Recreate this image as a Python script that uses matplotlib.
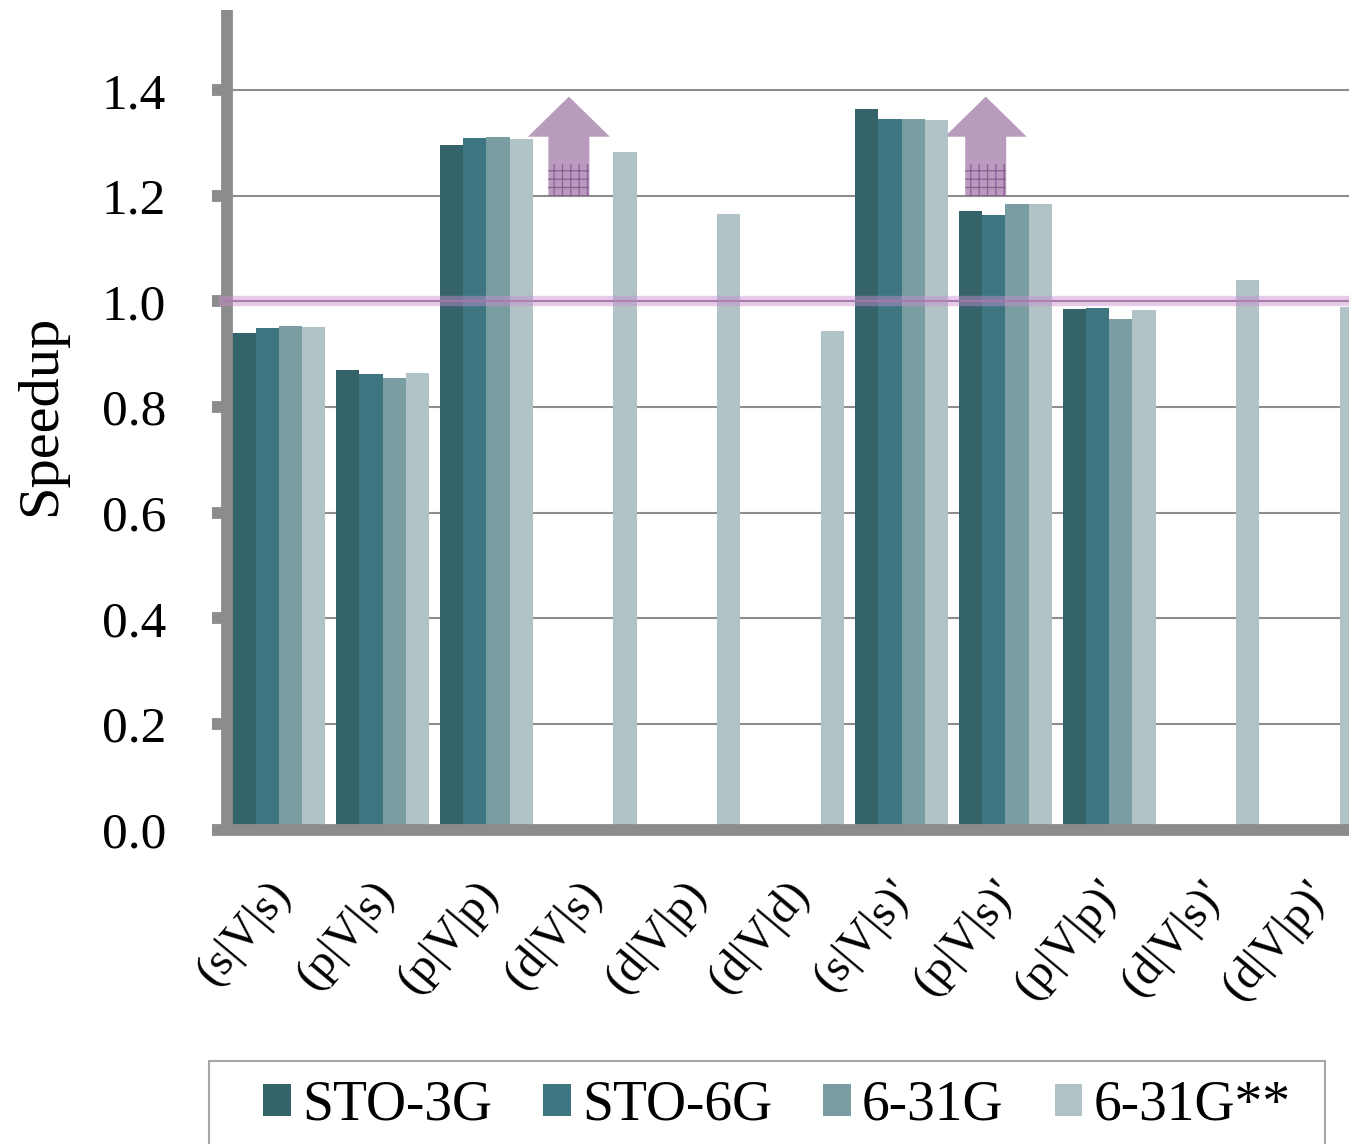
import numpy as np
import matplotlib
matplotlib.use('Agg')
from matplotlib import pyplot as plt
from matplotlib.patches import FancyArrow, Rectangle
from matplotlib.transforms import ScaledTranslation

plt.rcParams['font.family'] = ['Liberation Serif', 'DejaVu Serif']
plt.rcParams['hatch.linewidth'] = 0.9

categories = ['(s|V|s)', '(p|V|s)', '(p|V|p)', '(d|V|s)', '(d|V|p)', '(d|V|d)',
              "(s|V|s)'", "(p|V|s)'", "(p|V|p)'", "(d|V|s)'", "(d|V|p)'"]
series_names = ['STO-3G', 'STO-6G', '6-31G', '6-31G**']

sto3g = [0.940, 0.871, 1.296, np.nan, np.nan, np.nan, 1.364, 1.172, 0.985, np.nan, np.nan]
sto6g = [0.950, 0.862, 1.309, np.nan, np.nan, np.nan, 1.345, 1.163, 0.987, np.nan, np.nan]
g631 = [0.953, 0.856, 1.311, np.nan, np.nan, np.nan, 1.345, 1.184, 0.966, np.nan, np.nan]
g631ss = [0.951, 0.864, 1.307, 1.283, 1.165, 0.945, 1.343, 1.184, 0.983, 1.040, 0.989]

colors = ['#34636a', '#3d7680', '#7a9da1', '#b2c3c7']
yticks = [0.0, 0.2, 0.4, 0.6, 0.8, 1.0, 1.2, 1.4]
# arrows mark the two cases that go off the scale
arrow_x = [2.794, 6.81]

W, H = 1349, 1144
fig = plt.figure(figsize=(W / 100, H / 100), dpi=100)
ax = fig.add_axes([227 / W, (H - 829.5) / H, (W - 227) / W, (829.5 - 10) / H])

x = np.arange(len(categories))
bar_w = 0.2236
for i, vals in enumerate([sto3g, sto6g, g631, g631ss]):
    ax.bar(x + (i - 1.5) * bar_w, vals, bar_w, color=colors[i], label=series_names[i],
           linewidth=0, zorder=3)

ax.set_xlim(-0.5, 10.31)
ax.set_ylim(0, 1.552)
ax.set_yticks(yticks)
ax.set_yticklabels(['%.1f' % v for v in yticks], fontsize=37)
ax.set_xticks(x)
ax.set_xticklabels(categories, fontsize=34, rotation=50, ha='right', rotation_mode='anchor')
ax.set_ylabel('Speedup', fontsize=42)
ax.yaxis.set_label_coords(-0.1425, 0.505)
ax.yaxis.grid(True, color='#8c8c8c', linewidth=1.5, zorder=1)
ax.xaxis.grid(False)
ax.set_axisbelow(True)

for s in ['top', 'right']:
    ax.spines[s].set_visible(False)
for s in ['left', 'bottom']:
    ax.spines[s].set_color('#8c8c8c')
    ax.spines[s].set_linewidth(8.5)
    ax.spines[s].set_capstyle('butt')
    ax.spines[s].set_zorder(4)
ax.tick_params(axis='y', length=11, width=8.5, color='#8c8c8c', pad=33, zorder=4)
ax.tick_params(axis='x', length=0, pad=31)

# labels sit a bit left of the group centre
for lab in ax.get_xticklabels():
    lab.set_transform(lab.get_transform() + ScaledTranslation(-12 / 100, 0, fig.dpi_scale_trans))

# reference band at 1.0
ax.axhline(1.0, xmin=-0.003, color='#c88fd0', alpha=0.45, linewidth=7.5, zorder=5, clip_on=False)
ax.axhline(1.0, xmin=-0.003, color='#a878ae', alpha=0.8, linewidth=1.5, zorder=5, clip_on=False)

for xa in arrow_x:
    ax.add_patch(FancyArrow(xa, 1.2, 0, 0.188, width=0.395, head_width=0.79, head_length=0.076,
                            length_includes_head=True, facecolor='#b99bbd', edgecolor='none', zorder=2))
    ax.add_patch(Rectangle((xa - 0.1975, 1.2), 0.395, 0.061, facecolor='none', edgecolor='#8e5c96',
                           hatch='++', linewidth=0, zorder=2))

# legend box runs off the bottom of the figure, so the frame is a separate patch
fig.add_artist(Rectangle((209 / W, -0.02), 1116 / W, (H - 1061) / H + 0.02, transform=fig.transFigure,
                         facecolor='white', edgecolor='#a6a6a6', linewidth=1.5, zorder=-1))
leg = ax.legend(loc='center left', bbox_to_anchor=(263 / W, (H - 1106) / H),
                bbox_transform=fig.transFigure, ncol=4, fontsize=40, frameon=False,
                borderaxespad=0, borderpad=0, handlelength=0.5, handleheight=0.5,
                handletextpad=0.2, columnspacing=0.92)

fig.savefig('out.png', dpi=100)
